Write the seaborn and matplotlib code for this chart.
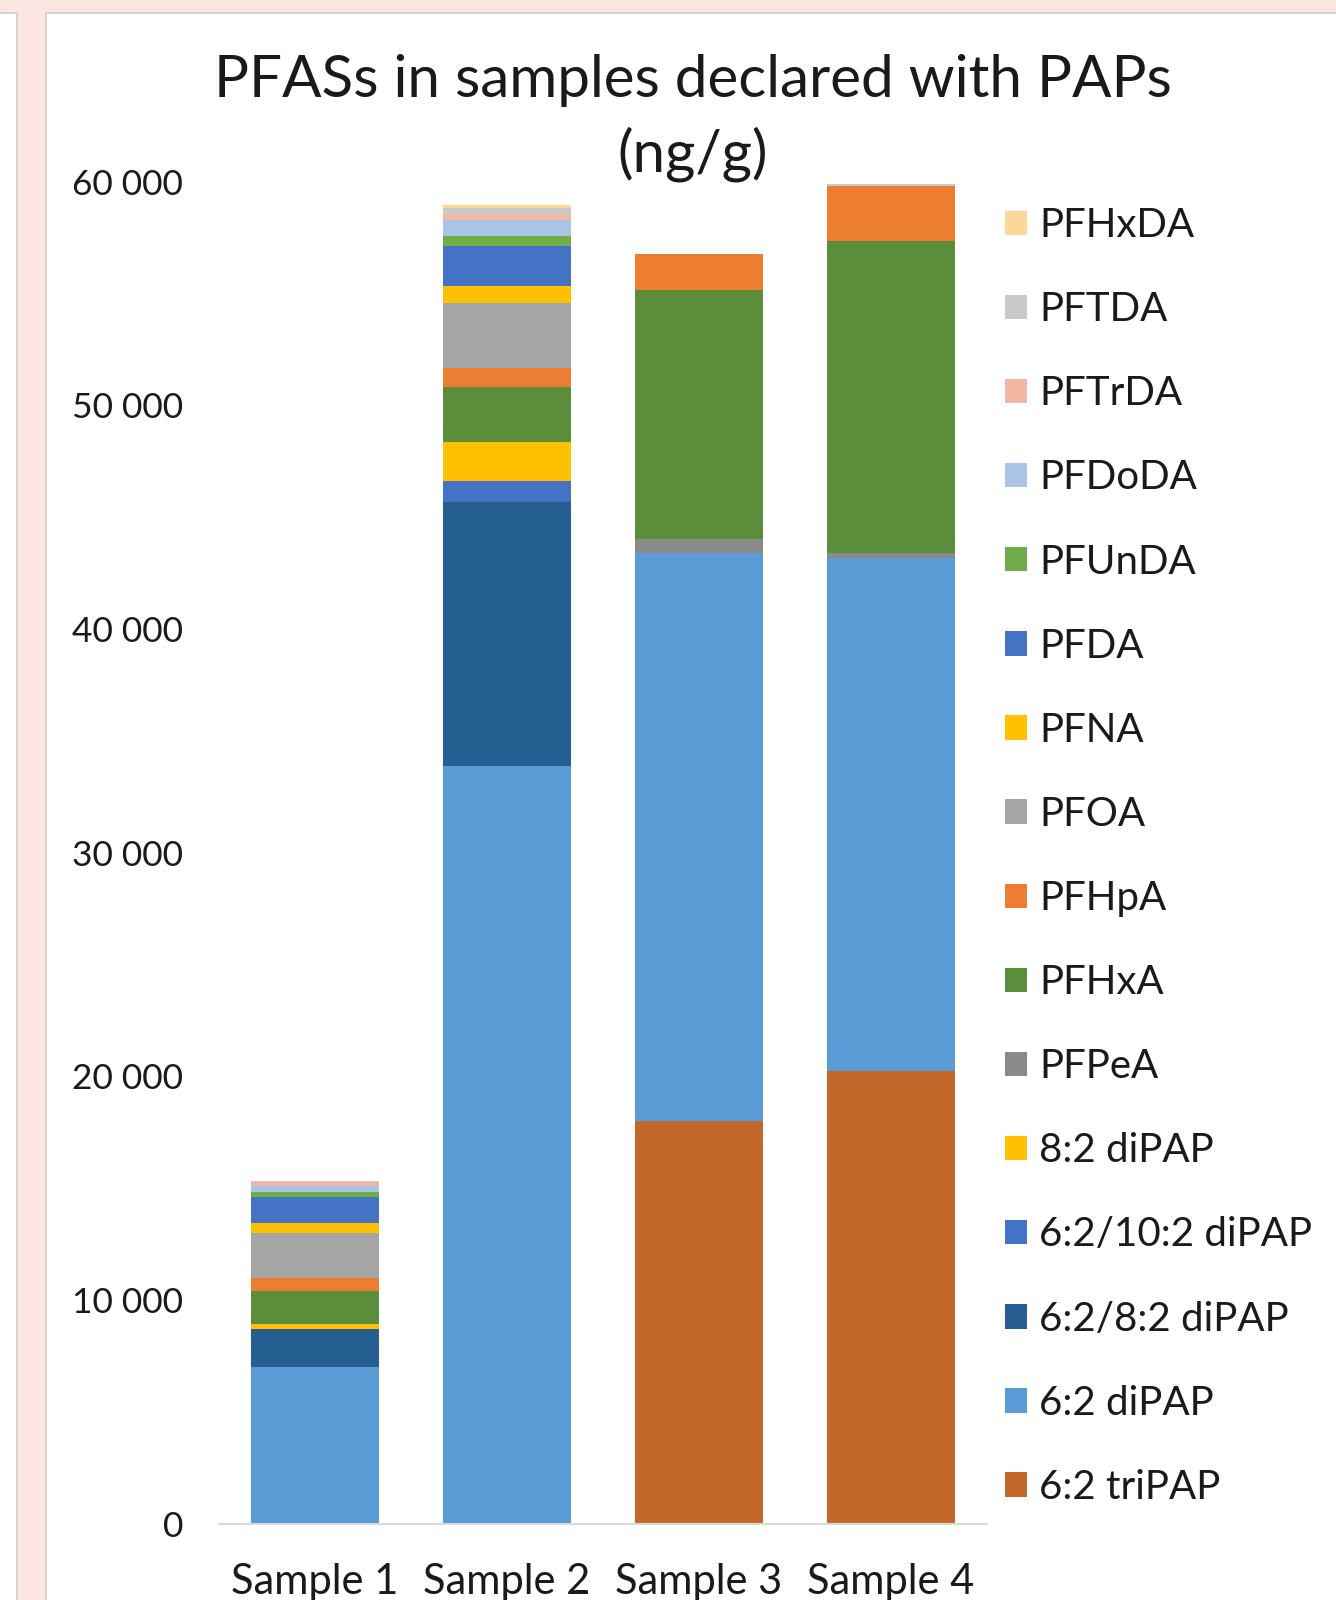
import numpy as np
import matplotlib
matplotlib.use("Agg")
import matplotlib.pyplot as plt
from matplotlib.patches import Rectangle, Patch
from matplotlib.ticker import FuncFormatter
import seaborn as sns

samples = ["Sample 1", "Sample 2", "Sample 3", "Sample 4"]

# stack order, bottom to top (ng/g)
compounds = ["6:2 triPAP", "6:2 diPAP", "6:2/8:2 diPAP", "6:2/10:2 diPAP", "8:2 diPAP",
             "PFPeA", "PFHxA", "PFHpA", "PFOA", "PFNA", "PFDA", "PFUnDA",
             "PFDoDA", "PFTrDA", "PFTDA", "PFHxDA"]

tri_62 = [0, 0, 18000, 20250]
di_62 = [7000, 33900, 25400, 22950]
di_62_82 = [1720, 11790, 0, 0]
di_62_102 = [0, 940, 0, 0]
di_82 = [220, 1720, 0, 0]
pfpea = [0, 0, 650, 220]
pfhxa = [1490, 2460, 11110, 13920]
pfhpa = [555, 880, 1630, 2470]
pfoa = [2010, 2880, 0, 0]
pfna = [450, 770, 0, 0]
pfda = [1160, 1800, 0, 0]
pfunda = [225, 430, 0, 0]
pfdoda = [270, 715, 0, 0]
pftrda = [165, 255, 0, 0]
pftda = [60, 295, 0, 80]
pfhxda = [0, 120, 0, 0]

colors = ["#C4672A", "#5B9BD5", "#255E91", "#4472C4", "#FFC000",
          "#8A8A8A", "#5B8E3A", "#ED7D31", "#A5A5A5", "#FFC000", "#4472C4", "#70AD47",
          "#A9C4E6", "#F2B6A2", "#C9C9C9", "#FFD699"]

series = [tri_62, di_62, di_62_82, di_62_102, di_82, pfpea, pfhxa, pfhpa,
          pfoa, pfna, pfda, pfunda, pfdoda, pftrda, pftda, pfhxda]

sns.set_theme(style="white")
plt.rcParams["font.family"] = ["Lato", "DejaVu Sans"]
text_col = "#1a1a1a"

fig = plt.figure(figsize=(13.36, 16), dpi=100)
fig.patch.set_facecolor("#FCE6E1")

# panel backgrounds (screenshot frame)
fig.add_artist(Rectangle((-0.01, -0.01), 17 / 1336 + 0.01, 1 - 13 / 1600 + 0.01,
                         transform=fig.transFigure, facecolor="white",
                         edgecolor="#D4D4D4", linewidth=1.5, zorder=0))
fig.add_artist(Rectangle((46 / 1336, -0.01), 1.0, 1 - 13 / 1600 + 0.01,
                         transform=fig.transFigure, facecolor="white",
                         edgecolor="#D4D4D4", linewidth=1.5, zorder=0))

ax = fig.add_axes([219 / 1336, 0.0476, (987 - 219) / 1336, 0.8388])
ax.set_facecolor("none")

# stacked bars: draw cumulative totals from the top layer down
tops = np.cumsum(np.array(series, dtype=float), axis=0)
for i in range(len(series) - 1, -1, -1):
    sns.barplot(x=samples, y=tops[i], color=colors[i], saturation=1,
                width=0.665, linewidth=0, ax=ax)

ax.set_xlim(-0.5, 3.5)
ax.set_ylim(0, 60000)
ax.set_yticks(range(0, 60001, 10000))
ax.yaxis.set_major_formatter(FuncFormatter(lambda v, p: f"{int(v):,}".replace(",", " ")))
ax.tick_params(axis="y", length=0, pad=26, labelsize=25.5, labelcolor=text_col)
ax.tick_params(axis="x", length=0, pad=28, labelsize=30, labelcolor=text_col)
ax.set_xlabel("")
ax.set_ylabel("")
for s in ["top", "right", "left"]:
    ax.spines[s].set_visible(False)
ax.spines["bottom"].set_color("#D9D9D9")
ax.spines["bottom"].set_linewidth(1.5)

handles = [Patch(facecolor=colors[i], edgecolor="none", label=compounds[i])
           for i in range(len(compounds) - 1, -1, -1)]
leg = fig.legend(handles=handles, loc="upper left",
                 bbox_to_anchor=(1005 / 1336, 1 - 207 / 1600),
                 frameon=False, fontsize=29, handlelength=0.55, handleheight=0.55,
                 handletextpad=0.3, labelspacing=1.17, borderpad=0, borderaxespad=0)
for t in leg.get_texts():
    t.set_color(text_col)

fig.text(693 / 1336, 1 - 118 / 1600, "PFASs in samples declared with PAPs\n(ng/g)",
         ha="center", va="center", fontsize=42, color=text_col, linespacing=1.42)

fig.savefig("out.png", dpi=100)
